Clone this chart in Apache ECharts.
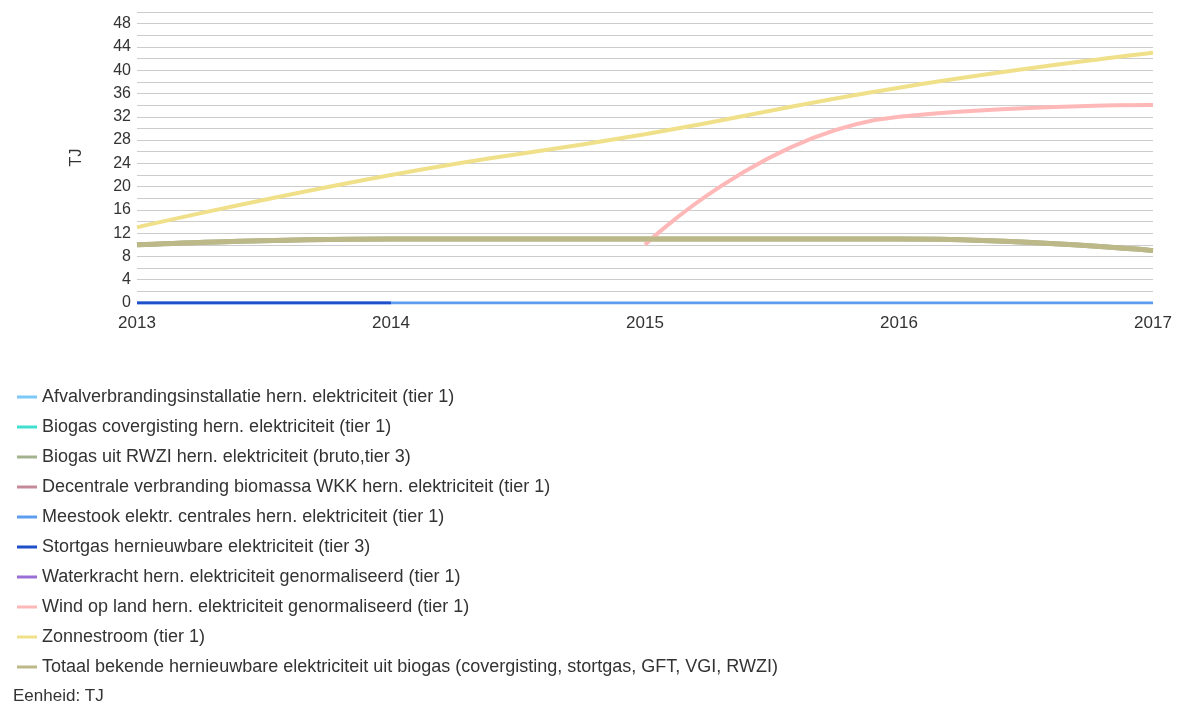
<!DOCTYPE html>
<html>
<head>
<meta charset="utf-8">
<script src="https://cdn.jsdelivr.net/npm/echarts@6/dist/echarts.min.js"></script>
<style>
  html, body { margin: 0; padding: 0; background: #fff; }
  #chart { width: 1178px; height: 707px; }
</style>
</head>
<body>
<div id="chart"></div>
<script>
// jaren op de x-as
const years = ["2013", "2014", "2015", "2016", "2017"];

// waarden per reeks (TJ)
const afval = [null, null, null, null, null];
const covergisting = [null, null, null, null, null];
const rwzi = [10, 11, 11, 11, 9];
const decentraal = [null, null, null, null, null];
const meestook = [0, 0, 0, 0, 0];
const stortgas = [0, 0, null, null, null];
const waterkracht = [null, null, null, null, null];
const wind = [null, null, 10, 32, 34];
const zon = [13, 22, 29, 37, 43];
const totaalBiogas = [10, 11, 11, 11, 9];

const seriesDefs = [
  { name: "Afvalverbrandingsinstallatie hern. elektriciteit (tier 1)", data: afval, color: "#7cc8f8", width: 4 },
  { name: "Biogas covergisting hern. elektriciteit (tier 1)", data: covergisting, color: "#40e0d0", width: 4 },
  { name: "Biogas uit RWZI hern. elektriciteit (bruto,tier 3)", data: rwzi, color: "#a4b38f", width: 5 },
  { name: "Decentrale verbranding biomassa WKK hern. elektriciteit (tier 1)", data: decentraal, color: "#c48a9a", width: 4 },
  { name: "Meestook elektr. centrales hern. elektriciteit (tier 1)", data: meestook, color: "#5e9cf0", width: 3 },
  { name: "Stortgas hernieuwbare elektriciteit (tier 3)", data: stortgas, color: "#1f4fc8", width: 3 },
  { name: "Waterkracht hern. elektriciteit genormaliseerd (tier 1)", data: waterkracht, color: "#9a6fd6", width: 4 },
  { name: "Wind op land hern. elektriciteit genormaliseerd (tier 1)", data: wind, color: "#ffb8b8", width: 4 },
  { name: "Zonnestroom (tier 1)", data: zon, color: "#f0e08a", width: 4 },
  { name: "Totaal bekende hernieuwbare elektriciteit uit biogas (covergisting, stortgas, GFT, VGI, RWZI)", data: totaalBiogas, color: "#bcb888", width: 5 },
];

const chart = echarts.init(document.getElementById("chart"));
const option = {
  animation: false,
  grid: { left: 137, right: 25, top: 12, bottom: 404 },
  legend: {
    orient: "vertical",
    left: 12,
    top: 383,
    itemGap: 12,
    itemWidth: 20,
    itemHeight: 3,
    icon: "rect",
    textStyle: { fontFamily: "Liberation Sans", fontSize: 18, color: "#333" },
    data: seriesDefs.map((s) => s.name),
  },
  graphic: [
    {
      type: "text",
      left: 13,
      top: 688,
      style: { text: "Eenheid: TJ", font: "17px 'Liberation Sans'", fill: "#333" },
    },
  ],
  xAxis: {
    type: "category",
    data: years,
    boundaryGap: false,
    axisLine: { show: false },
    axisTick: { show: false },
    axisLabel: { fontFamily: "Liberation Sans", fontSize: 17, color: "#333", margin: 12 },
  },
  yAxis: {
    type: "value",
    min: 0,
    max: 50,
    interval: 2,
    name: "TJ",
    nameLocation: "middle",
    nameGap: 52,
    nameTextStyle: { fontFamily: "Liberation Sans", fontSize: 16, color: "#333" },
    axisLine: { show: false },
    axisTick: { show: false },
    axisLabel: {
      fontFamily: "Liberation Sans",
      fontSize: 16,
      color: "#333",
      margin: 6,
      formatter: (v) => (v % 4 === 0 && v <= 48 ? String(v) : ""),
    },
    splitLine: { lineStyle: { color: "#cccccc", width: 1 } },
  },
  series: seriesDefs.map((s) => ({
    name: s.name,
    type: "line",
    data: s.data,
    smooth: 0.5,
    symbol: "none",
    connectNulls: false,
    color: s.color,
    lineStyle: { color: s.color, width: s.width },
  })),
};
chart.setOption(option);
</script>
</body>
</html>
